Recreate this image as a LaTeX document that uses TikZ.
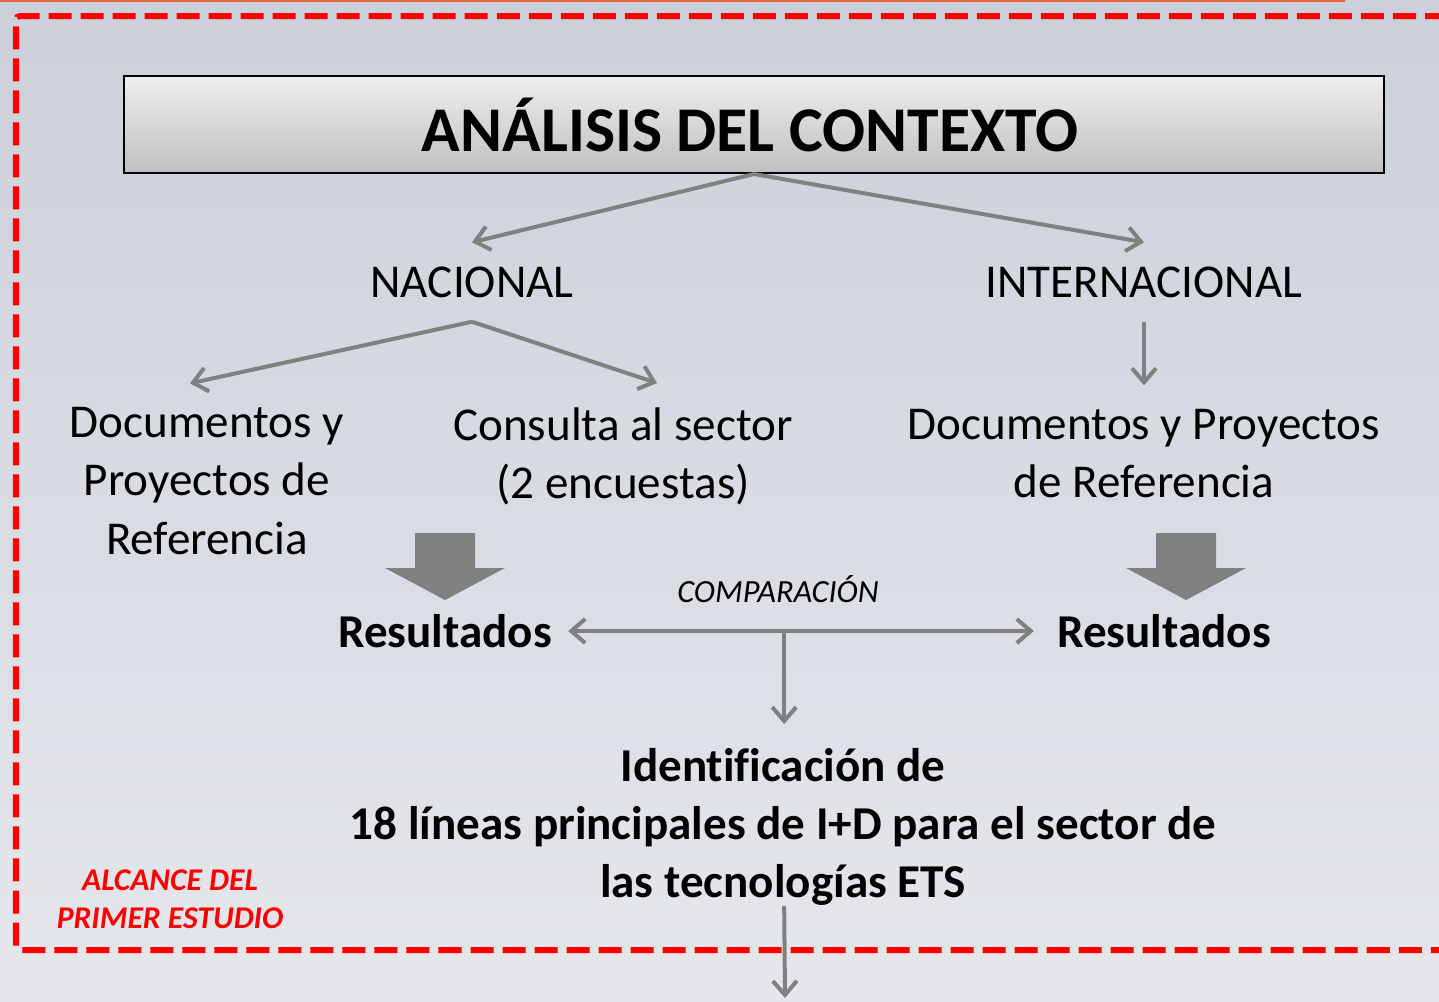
\documentclass[tikz,border=0pt]{standalone}
\usepackage{fontspec}
\setmainfont{Carlito}[Ligatures=NoCommon]
\usepackage{xcolor}
\definecolor{SlideTop}{RGB}{203,208,218}
\definecolor{SlideBottom}{RGB}{229,231,235}
\definecolor{TitleTop}{RGB}{238,238,238}
\definecolor{TitleBottom}{RGB}{192,192,192}
\definecolor{ArrowGray}{RGB}{128,128,128}
\definecolor{ScopeRed}{RGB}{255,0,0}
\definecolor{SlideOrange}{RGB}{232,100,60}
\usetikzlibrary{math,arrows.meta}
\tikzset{%
  px units/.style={x=0.025cm,y=-0.025cm},
  conn/.style={draw=ArrowGray, line width=0.1cm, ->},
  plain text/.style={font=\fontsize{33.5}{41.3}\selectfont, align=center, inner xsep=0pt, inner ysep=0.6cm},
  bold text/.style={plain text, font=\fontsize{33.5}{41.3}\selectfont\bfseries},
  title box/.style={draw=black, line width=0.05cm, top color=TitleTop, bottom color=TitleBottom,
    minimum width=31.5cm, minimum height=2.425cm, font=\fontsize{45.3}{54}\selectfont\bfseries},
  block arrow/.style={fill=ArrowGray},
  frame/.style={draw=ScopeRed, line width=0.15cm, dash pattern=on 0.575cm off 0.225cm, rounded corners=0.1cm}
}

\begin{document}
\begin{tikzpicture}[px units, >={Straight Barb[length=0.35cm,width=0.6cm]}]
    \tikzmath{
      \W=1439; \H=1001;
      \lx=445; % left results
      \rx=1186; % right results
    }
    \clip (0,0) rectangle (\W,\H);
    \useasboundingbox (0,0) rectangle (\W,\H);
    % background
    \shade[top color=SlideTop, bottom color=SlideBottom] (0,0) rectangle (\W,\H);
    \draw[SlideOrange, line width=0.05cm] (0,0.5) -- (1345,0.5);
    \draw[frame] (1480,16) -- (16,16) -- (16,950) -- (1480,950);
    % title
    \node[title box] (title) at (754,124.5) {\hspace*{-0.2cm}ANÁLISIS DEL CONTEXTO};
    % scopes
    \node[plain text] (nac) at (472,282) {NACIONAL};
    \node[plain text] (int) at (1144,282) {INTERNACIONAL};
    \node[plain text] (docnac) at (207,481) {Documentos y\\Proyectos de\\Referencia};
    \node[plain text] (consulta) at (623,456) {Consulta al sector\\(2 encuestas)};
    \node[plain text] (docint) at (1144,454) {Documentos y Proyectos\\de Referencia};
    \draw[conn] (title.south) -- (nac.north);
    \draw[conn] (title.south) -- (int.north);
    \draw[conn] (nac.south) -- ([xshift=-0.425cm]docnac.north);
    \draw[conn] (nac.south) -- ([xshift=0.85cm]consulta.north);
    \draw[conn] (int.south) -- (docint.north);
    % results
    \foreach \cx in {\lx,\rx} {
      \fill[block arrow] (\cx-30,533) -- (\cx+30,533) -- (\cx+30,568) -- (\cx+60,568)
        -- (\cx,600) -- (\cx-60,568) -- (\cx-30,568) -- cycle;
    }
    \node[bold text, inner xsep=0.4cm] (resnac) at (\lx,631) {Resultados};
    \node[bold text, inner xsep=0.4cm] (resint) at (1164,631) {Resultados};
    \draw[conn,<->,shorten >=0.175cm] (resnac.east) -- (resnac.east -| resint.west)
      node[pos=0.444, above, inner sep=0.65cm, font=\fontsize{23}{28}\selectfont\itshape] (comp) {COMPARACIÓN}
      coordinate[pos=0.457] (split);
    % lines
    \node[bold text, inner ysep=0pt] (ident) at (783,827)
      {Identificación de\\18 líneas principales de I+D para el sector de\\las tecnologías ETS};
    \coordinate (exit) at (785,998);
    \draw[conn, shorten >=0.6cm] (split) -- (split |- ident.north);
    \draw[conn] (ident.south -| split) -- (exit);
    \node[font=\fontsize{22.5}{27}\selectfont\bfseries\itshape, text=ScopeRed, align=center] (alcance) at (170,899)
      {ALCANCE DEL\\PRIMER ESTUDIO};
\end{tikzpicture}
\end{document}
